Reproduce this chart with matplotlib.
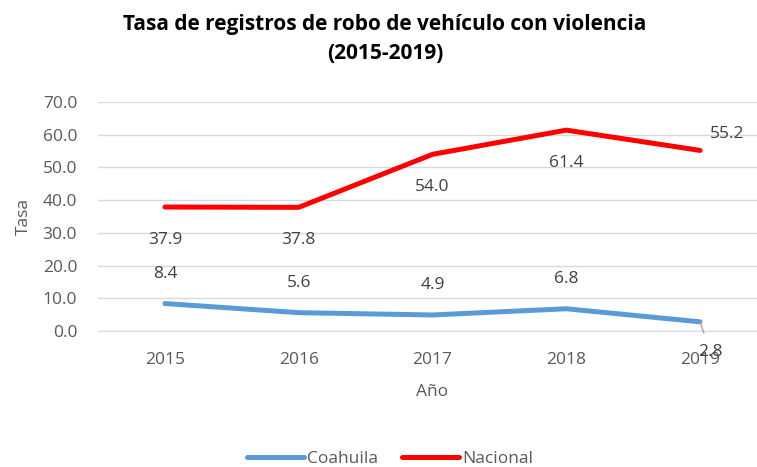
import matplotlib
matplotlib.use("Agg")
import matplotlib.pyplot as plt

years = ["2015", "2016", "2017", "2018", "2019"]
coahuila = [8.4, 5.6, 4.9, 6.8, 2.8]
nacional = [37.9, 37.8, 54.0, 61.4, 55.2]
yticks = [0, 10, 20, 30, 40, 50, 60, 70]

plt.rcParams['font.family'] = ['Open Sans', 'DejaVu Sans']
txt = '#595959'

fig = plt.figure(figsize=(7.57, 4.67), dpi=100)
ax = fig.add_axes([98/757, 136/467, 669/757, 229/467])
x = list(range(len(years)))
l1, = ax.plot(x, coahuila, color='#5B9BD5', lw=3.6, solid_capstyle='round', label='Coahuila', zorder=3)
l2, = ax.plot(x, nacional, color='#FF0000', lw=3.6, solid_capstyle='round', label='Nacional', zorder=3)

ax.set_xlim(-0.5, 4.5)
ax.set_ylim(0, 70)
ax.set_yticks(yticks)
ax.set_yticklabels([f"{v:.1f}" for v in yticks], color=txt, fontsize=12.5)
ax.set_xticks(x)
ax.set_xticklabels(years, color=txt, fontsize=12.5)
ax.tick_params(axis='y', length=0, pad=15)
ax.tick_params(axis='x', length=0, pad=15)
ax.grid(axis='y', color='#D9D9D9', lw=1)
ax.set_axisbelow(True)
for s in ['left', 'right', 'top']:
    ax.spines[s].set_visible(False)
ax.spines['bottom'].set_color('#D9D9D9')

fs = 12.5
for i, v in enumerate(nacional):
    if i == 4:
        ax.annotate(f"{v:.1f}", (i, v), xytext=(27, 16), textcoords='offset pixels',
                    ha='center', va='center', color='#404040', fontsize=fs)
    else:
        ax.annotate(f"{v:.1f}", (i, v), xytext=(0, -33), textcoords='offset pixels',
                    ha='center', va='center', color='#404040', fontsize=fs)
for i, v in enumerate(coahuila):
    if i == 4:
        ax.annotate(f"{v:.1f}", (i, v), xytext=(10, -30), textcoords='offset pixels',
                    ha='center', va='center', color='#404040', fontsize=fs,
                    arrowprops=dict(arrowstyle='-', color='#A6A6A6', lw=1, shrinkA=6, shrinkB=0))
    else:
        ax.annotate(f"{v:.1f}", (i, v), xytext=(0, 30), textcoords='offset pixels',
                    ha='center', va='center', color='#404040', fontsize=fs)

ax.set_ylabel("Tasa", color=txt, fontsize=12.5, labelpad=8)
ax.set_xlabel("Año", color=txt, fontsize=12.5, labelpad=12)

fig.text(385/757, 1 - 39/467, "Tasa de registros de robo de vehículo con violencia\n(2015-2019)",
         ha='center', va='center', fontsize=15, fontweight='bold', color='black', linespacing=1.45)

fig.legend(handles=[l1, l2], loc='center', bbox_to_anchor=(390/757, 1 - 459/467), ncol=2,
           frameon=False, fontsize=12.5, handlelength=3.3, handletextpad=0.15, columnspacing=1.4,
           labelcolor=txt)

fig.savefig("out.png", dpi=100)
